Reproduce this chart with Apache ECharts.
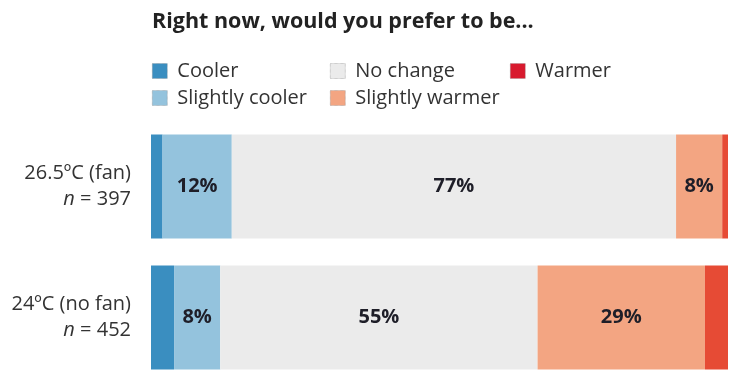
<!DOCTYPE html>
<html><head><meta charset="utf-8">
<script src="https://cdn.jsdelivr.net/npm/echarts@6/dist/echarts.min.js"></script>
<style>html,body{margin:0;padding:0;background:#fff}#c{width:730px;height:375px}</style>
</head><body><div id="c"></div>
<script>
const categories = ['26.5ºC (fan)|397', '24ºC (no fan)|452'];
const seriesNames = ['Cooler', 'Slightly cooler', 'No change', 'Slightly warmer', 'Warmer'];
const cooler = [2, 4];
const slightlyCooler = [12, 8];
const noChange = [77, 55];
const slightlyWarmer = [8, 29];
const warmer = [1, 4];
const colors = ['#3a8ec0', '#94c3dd', '#ebebeb', '#f3a582', '#e64b35'];
const legendColors = ['#3a8ec0', '#94c3dd', '#ebebeb', '#f3a582', '#d81a2e'];
const showLabel = [false, true, true, true, false];
const values = [cooler, slightlyCooler, noChange, slightlyWarmer, warmer];
const FONT = 'Open Sans';

const chart = echarts.init(document.getElementById('c'));
function legendBlock(names, left) {
  return {
    left: left, top: 56, orient: 'vertical', itemGap: 7,
    itemWidth: 15, itemHeight: 15, icon: 'rect', selectedMode: false,
    textStyle: { fontFamily: FONT, fontSize: 20, color: '#333', padding: [0, 0, 0, 5] },
    data: names.map(n => ({ name: n, itemStyle: { color: legendColors[seriesNames.indexOf(n)], borderColor: '#888', borderWidth: 0.6, borderType: 'dotted' } }))
  };
}
chart.setOption({
  animation: false,
  title: { text: 'Right now, would you prefer to be...', left: 147, top: 6,
    textStyle: { fontFamily: FONT, fontSize: 21.5, fontWeight: 'bold', color: '#222' } },
  legend: [
    legendBlock(['Cooler', 'Slightly cooler'], 147),
    legendBlock(['No change', 'Slightly warmer'], 325),
    legendBlock(['Warmer'], 505)
  ],
  grid: { left: 151, right: 2, top: 121, height: 262, outerBoundsMode: 'none', containLabel: false },
  xAxis: { type: 'value', min: 0, max: 100, show: false },
  yAxis: {
    type: 'category', inverse: true, data: categories,
    axisLine: { show: false }, axisTick: { show: false },
    axisLabel: {
      margin: 20, align: 'right', lineHeight: 26,
      formatter: v => { const p = v.split('|'); return '{a|' + p[0] + '}\n{i|n}{a| = ' + p[1] + '}'; },
      rich: {
        a: { fontFamily: FONT, fontSize: 20, color: '#333', lineHeight: 26 },
        i: { fontFamily: FONT, fontSize: 20, color: '#333', fontStyle: 'italic', lineHeight: 26 }
      }
    }
  },
  series: seriesNames.map((n, i) => ({
    name: n, type: 'bar', stack: 'all', barWidth: 104,
    itemStyle: { color: colors[i] },
    label: { show: showLabel[i], position: 'inside', formatter: '{c}%',
      fontFamily: FONT, fontSize: 20, fontWeight: 'bold', color: '#1e1e28' },
    data: values[i]
  }))
});
</script></body></html>
